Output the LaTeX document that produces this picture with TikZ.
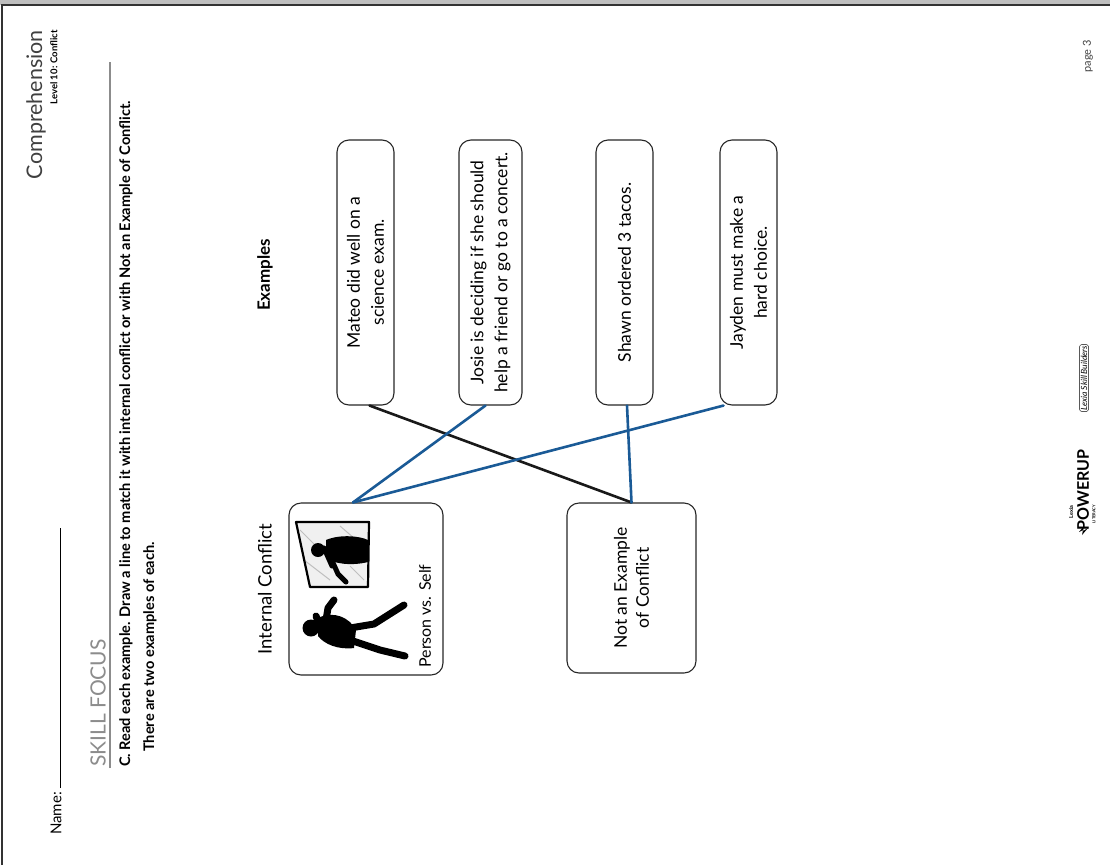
\documentclass[tikz,border=0pt]{standalone}
\usepackage{fontspec}
\setmainfont{Lato}
\usepackage{tikz}
\usetikzlibrary{calc,positioning}

\definecolor{lineblue}{HTML}{1A5A96}
\definecolor{rulegray}{HTML}{8C8C8C}

\tikzset{
  card/.style={draw=black!85, line width=1.1pt, rounded corners=12pt, rotate=90,
    align=center, inner sep=2pt, font=\fontsize{17.5}{24}\selectfont},
  match/.style={line width=2.6pt, line cap=round},
  upright/.style={rotate=90, inner sep=0pt},
}

\begin{document}
\begin{tikzpicture}[x=1pt,y=-1pt]
    \useasboundingbox (0,0) rectangle (1110,865);
    % page edge
    \fill[black!25] (0,0) rectangle (1110,5);
    \draw[black!80, line width=1.4pt] (2,865) -- (2,5) -- (1110,5);

    % header
    \node[upright, anchor=east, font=\fontsize{21.5}{21.5}\selectfont, text=black!75] (subject) at (36,30) {Comprehension};
    \node[upright, anchor=east, font=\bfseries\fontsize{9.5}{9.5}\selectfont] (level) at (54,30) {Level 10: Conflict};
    \node[upright, anchor=east, font=\fontsize{11}{11}\selectfont, text=black!75] (pagenum) at (1088,40) {page 3};
    \node[upright, anchor=west, font=\fontsize{15}{15}\selectfont] (name) at (56,835) {Name:};
    \draw[line width=0.8pt] (60,788) -- (60,528);

    \node[upright, anchor=west, font=\fontsize{21}{21}\selectfont, text=rulegray] (skill) at (98,767) {SKILL FOCUS};
    \draw[rulegray, line width=1.2pt] (110,768) -- (110,62);

    \node[upright, anchor=west, font=\bfseries\fontsize{14.6}{14.6}\selectfont] (task) at (126,767)
      {C. Read each example. Draw a line to match it with internal conflict or with Not an Example of Conflict.};
    \node[upright, anchor=west, font=\bfseries\fontsize{14.6}{14.6}\selectfont] (task2) at (150,752)
      {There are two examples of each.};

    % headings
    \node[upright, font=\bfseries\fontsize{17}{17}\selectfont] (exhead) at (265,275) {Examples};
    \node[upright, font=\fontsize{18.5}{18.5}\selectfont] (inhead) at (265,589) {Internal Conflict};

    % example cards
    \node[card, minimum width=265, minimum height=57] (mateo) at (365.5,272.5) {Mateo did well on a\\science exam.};
    \node[card, minimum width=265, minimum height=63] (josie) at (490.5,272.5) {Josie is deciding if she should\\help a friend or go to a concert.};
    \node[card, minimum width=265, minimum height=57] (shawn) at (624.5,272.5) {Shawn ordered 3 tacos.};
    \node[card, minimum width=265, minimum height=57] (jayden) at (748.5,272.5) {Jayden must make a\\hard choice.};

    % answer cards
    \node[card, minimum width=172, minimum height=154] (internal) at (366,589) {};
    \node[card, minimum width=170, minimum height=129, font=\fontsize{17.5}{22}\selectfont] (notex) at (631.5,588) {Not an Example\\of Conflict};
    \node[upright, font=\fontsize{16}{16}\selectfont] (pvs) at (425,616) {Person vs. Self};

    % mirror
    \fill[black!6] (296,522) -- (369,522) -- (368,587) -- (310,587) -- cycle;
    \draw[black!25, line width=1pt] (300,530) -- (318,548) (304,560) -- (330,580) (340,526) -- (362,545) (350,566) -- (364,580);
    \fill[black] (318,550) circle (7)
      (326,540) .. controls (340,534) and (360,536) .. (368,540) -- (368,562) .. controls (352,566) and (334,564) .. (326,558) -- cycle;
    \draw[black, line width=5pt, line cap=round] (330,556) -- (338,574) -- (346,582) (324,548) -- (332,566);
    \draw[black, line width=2.2pt, line join=round] (296,522) -- (369,522) -- (368,587) -- (310,587) -- cycle;

    % figure in front of the mirror
    \fill[black] (311,628) circle (8.5);
    \fill[black] (318,618) .. controls (334,610) and (350,618) .. (356,630) -- (354,648) .. controls (338,650) and (324,644) .. (318,636) -- cycle;
    \draw[black, line width=7pt, line cap=round, line join=round]
      (350,640) -- (380,650) -- (405,656)
      (350,628) -- (374,624) -- (404,605)
      (326,620) -- (328,608) -- (334,600)
      (320,626) -- (316,616);

    % logo
    \node[upright, font=\itshape\fontsize{8.5}{8.5}\selectfont, draw, rounded corners=3pt, inner sep=1.5pt] (skillb) at (1084,378) {Lexia Skill Builders};
    \node[upright, font=\bfseries\fontsize{16}{16}\selectfont] (powerup) at (1083,490) {POWERUP};
    \node[upright, font=\bfseries\fontsize{5.5}{5.5}\selectfont] (lexia) at (1071,512) {Lexia};
    \node[upright, font=\bfseries\fontsize{4}{4}\selectfont] (literacy) at (1094,514) {LITERACY};
    \fill (1079,532) -- (1084,526) -- (1083,531) -- (1088,528) -- (1082,535) -- (1083,530) -- cycle;

    % matching lines
    \draw[match, black!90] ($(mateo.west)+(4,0)$) -- (notex.east);
    \draw[match, lineblue] ($(josie.west)+(-5,0)$) -- ($(internal.east)+(-13,0)$);
    \draw[match, lineblue] ($(shawn.west)+(2.5,0)$) -- (notex.east);
    \draw[match, lineblue] ($(jayden.west)+(-25,0)$) -- ($(internal.east)+(-13,0)$);
\end{tikzpicture}
\end{document}
